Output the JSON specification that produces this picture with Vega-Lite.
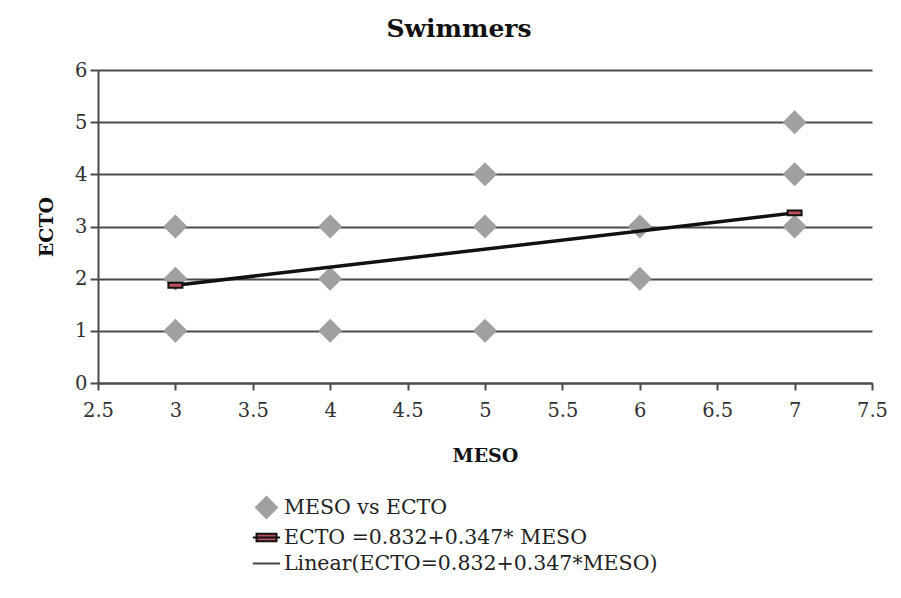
{
  "$schema": "https://vega.github.io/schema/vega-lite/v6.json",
  "autosize": "none",
  "padding": {"left": 98, "top": 70, "right": 29, "bottom": 215},
  "width": 774,
  "height": 313,
  "background": "white",
  "title": {"text": "Swimmers", "font": "DejaVu Serif", "fontSize": 25, "fontWeight": "bold", "color": "#111111", "anchor": "middle", "frame": "group", "dx": -26, "offset": 18},
  "config": {
    "view": {"stroke": null},
    "axis": {"labelFont": "DejaVu Serif", "labelFontSize": 19.5, "labelColor": "#333333", "labelFlush": false, "titleFont": "DejaVu Serif", "titleFontSize": 19, "titleFontWeight": "bold", "titleColor": "#111111", "domainColor": "#4a4a4a", "domainWidth": 2, "tickColor": "#4a4a4a", "tickWidth": 2, "gridColor": "#4a4a4a", "gridWidth": 2},
    "legend": {"orient": "none", "legendX": 157, "legendY": 426, "direction": "vertical", "labelFont": "DejaVu Serif", "labelFontSize": 20.5, "labelColor": "#222222", "labelLimit": 600, "symbolSize": 441, "symbolStrokeWidth": 2, "rowPadding": 4, "labelOffset": 6, "padding": 0}
  },
  "layer": [
    {
      "data": {"values": [
        {"MESO": 3, "ECTO": 3, "series": "MESO vs ECTO"},
        {"MESO": 3, "ECTO": 2, "series": "MESO vs ECTO"},
        {"MESO": 3, "ECTO": 1, "series": "MESO vs ECTO"},
        {"MESO": 4, "ECTO": 3, "series": "MESO vs ECTO"},
        {"MESO": 4, "ECTO": 2, "series": "MESO vs ECTO"},
        {"MESO": 4, "ECTO": 1, "series": "MESO vs ECTO"},
        {"MESO": 5, "ECTO": 4, "series": "MESO vs ECTO"},
        {"MESO": 5, "ECTO": 3, "series": "MESO vs ECTO"},
        {"MESO": 5, "ECTO": 1, "series": "MESO vs ECTO"},
        {"MESO": 6, "ECTO": 3, "series": "MESO vs ECTO"},
        {"MESO": 6, "ECTO": 2, "series": "MESO vs ECTO"},
        {"MESO": 7, "ECTO": 5, "series": "MESO vs ECTO"},
        {"MESO": 7, "ECTO": 4, "series": "MESO vs ECTO"},
        {"MESO": 7, "ECTO": 3, "series": "MESO vs ECTO"}
      ]},
      "mark": {"type": "point", "filled": true, "size": 576, "opacity": 1, "strokeWidth": 0},
      "encoding": {
        "x": {"field": "MESO", "type": "quantitative", "scale": {"domain": [2.5, 7.5], "nice": false, "zero": false},
          "axis": {"title": "MESO", "values": [2.5, 3, 3.5, 4, 4.5, 5, 5.5, 6, 6.5, 7, 7.5], "grid": false, "tickSize": 7, "labelPadding": 11, "titlePadding": 27, "domain": true, "format": "~g"}},
        "y": {"field": "ECTO", "type": "quantitative", "scale": {"domain": [0, 6], "nice": false},
          "axis": {"title": "ECTO", "values": [0, 1, 2, 3, 4, 5, 6], "grid": true, "tickSize": 8, "labelPadding": 3, "titlePadding": 18}},
        "shape": {"field": "series", "type": "nominal",
          "scale": {"domain": ["MESO vs ECTO", "ECTO =0.832+0.347* MESO", "Linear(ECTO=0.832+0.347*MESO)"], "range": ["diamond", "M-1.3,0H1.3M-0.95,-0.35H0.95V0.35H-0.95Z", "M-1.3,0H1.3"]},
          "legend": {"title": null}},
        "fill": {"field": "series", "type": "nominal",
          "scale": {"domain": ["MESO vs ECTO", "ECTO =0.832+0.347* MESO", "Linear(ECTO=0.832+0.347*MESO)"], "range": ["#a0a0a0", "#b8505e", "#333333"]},
          "legend": {"title": null}},
        "stroke": {"field": "series", "type": "nominal",
          "scale": {"domain": ["MESO vs ECTO", "ECTO =0.832+0.347* MESO", "Linear(ECTO=0.832+0.347*MESO)"], "range": ["#a0a0a0", "#111111", "#444444"]},
          "legend": {"title": null}}
      }
    },
    {
      "data": {"values": [
        {"MESO": 3, "ECTO": 1.873},
        {"MESO": 7, "ECTO": 3.261}
      ]},
      "mark": {"type": "line", "color": "#111111", "strokeWidth": 3.5},
      "encoding": {
        "x": {"field": "MESO", "type": "quantitative"},
        "y": {"field": "ECTO", "type": "quantitative"}
      }
    },
    {
      "data": {"values": [
        {"MESO": 3, "ECTO": 1.873},
        {"MESO": 7, "ECTO": 3.261}
      ]},
      "mark": {"type": "point", "shape": "M-1,-0.35H1V0.35H-1Z", "size": 196, "filled": true, "fill": "#c0505e", "stroke": "#111111", "strokeWidth": 2, "opacity": 1},
      "encoding": {
        "x": {"field": "MESO", "type": "quantitative"},
        "y": {"field": "ECTO", "type": "quantitative"}
      }
    }
  ],
  "resolve": {"scale": {"shape": "shared", "fill": "shared", "stroke": "shared"}}
}
